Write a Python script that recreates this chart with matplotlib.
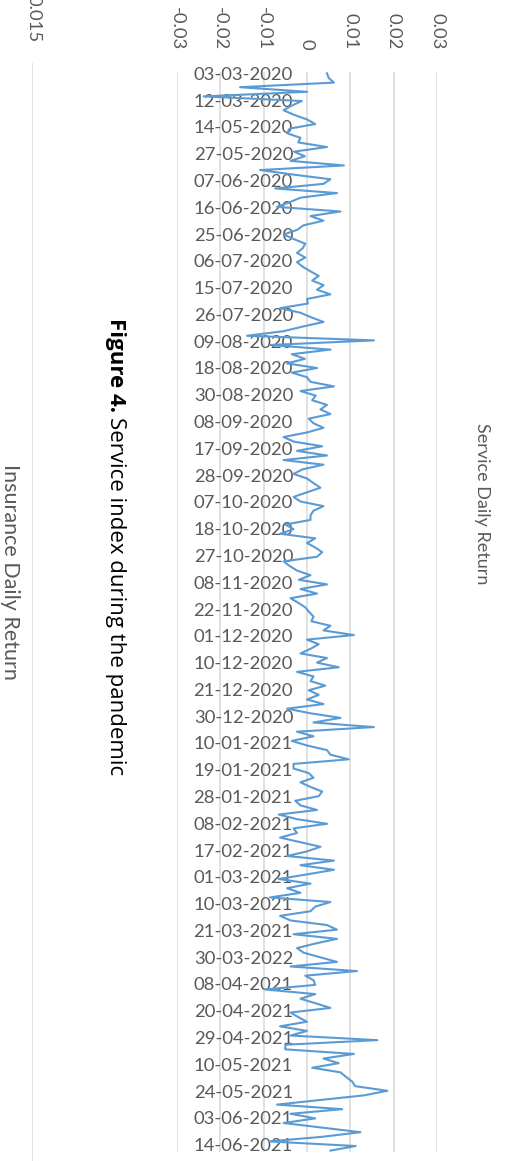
import matplotlib.pyplot as plt
import numpy as np

# Service index daily returns (in %), top to bottom
ret_mar_jun20 = [0.46, 0.5, 0.62, -1.54, 0.0, -2.38, -0.12, -0.35, -0.54, -0.3, 0.0, 0.19, -0.4, -0.46,
                 -0.15, -0.2, 0.46, -0.3, -0.05, -0.38, 0.85, -1.08, -0.3, 0.54, 0.38, -0.73, 0.69, -0.15]
ret_jun_aug20 = [-0.4, -0.69, 0.77, 0.08, 0.38, -0.08, -0.23, -0.54, -0.3, -0.04, -0.1, -0.23, -0.04, -0.23,
                 -0.1, 0.08, 0.27, 0.12, 0.38, 0.23, 0.54, 0.0, 0.02, -0.62, -0.15, 0.1, 0.38, -0.1, -0.54]
ret_aug_sep20 = [-1.38, 1.54, -0.85, 0.54, -0.35, -0.05, -0.46, 0.23, -0.35, 0.0, 0.08, 0.62, -0.15, 0.2,
                 0.12, 0.46, 0.31, 0.54, 0.04, 0.15, 0.38, 0.0, -0.54, -0.3, 0.35, -0.23, 0.46, -0.54, 0.38]
ret_sep_nov20 = [-0.1, -0.31, 0.0, 0.15, 0.31, 0.0, -0.31, -0.15, 0.38, 0.15, 0.08, 0.08, -0.5, -0.31, -0.62,
                 0.19, 0.0, 0.19, 0.35, 0.23, -0.54, -0.4, -0.23, 0.08, -0.19, 0.46, -0.15, 0.23, -0.38,
                 -0.2, -0.04]
ret_nov_jan21 = [0.05, 0.15, 0.1, 0.54, 0.38, 1.08, 0.0, 0.27, 0.08, -0.15, 0.46, 0.23, 0.73, -0.23,
                 0.15, 0.08, 0.42, 0.04, 0.27, 0.0, 0.38, -0.46, 0.08, 0.77, 0.15, 1.54, -0.23, 0.15]
ret_jan_mar21 = [-0.35, 0.0, 0.46, 0.54, 0.96, -0.31, -0.31, 0.04, 0.15, -0.15, 0.08, 0.35, 0.27,
                 -0.27, -0.15, 0.23, -0.65, -0.23, 0.46, -0.31, -0.23, -0.62, -0.15, 0.31, 0.0,
                 -0.46, 0.62, -0.15, 0.62]
ret_mar_apr21 = [0.0, -0.65, 0.08, -0.46, -0.15, -0.85, 0.54, 0.19, 0.08, -0.62, -0.38, 0.46, 0.69, -0.31,
                 0.69, 0.2, -0.23, -0.08, 0.3, 0.69, -0.38, 1.15, -0.04, 0.15, 0.19, -0.96, 0.19, -0.15, 0.2, 0.54]
ret_apr_jun21 = [-0.38, -0.2, 0.0, -0.62, 0.0, -0.38, 1.62, -0.5, -0.5, 1.08, 0.38, 0.73, 0.12, 0.77,
                 0.9, 1.04, 1.11, 1.85, 1.31, 0.3, -0.69, 0.81, -0.38, 0.19, -0.54, 0.35, 1.23, 0.35, -0.88,
                 1.12, 0.54]

date_labels = ["03-03-2020", "12-03-2020", "14-05-2020", "27-05-2020", "07-06-2020", "16-06-2020",
               "25-06-2020", "06-07-2020", "15-07-2020", "26-07-2020", "09-08-2020", "18-08-2020",
               "30-08-2020", "08-09-2020", "17-09-2020", "28-09-2020", "07-10-2020", "18-10-2020",
               "27-10-2020", "08-11-2020", "22-11-2020", "01-12-2020", "10-12-2020", "21-12-2020",
               "30-12-2020", "10-01-2021", "19-01-2021", "28-01-2021", "08-02-2021", "17-02-2021",
               "01-03-2021", "10-03-2021", "21-03-2021", "30-03-2022", "08-04-2021", "20-04-2021",
               "29-04-2021", "10-05-2021", "24-05-2021", "03-06-2021", "14-06-2021"]
value_ticks = [-0.03, -0.02, -0.01, 0, 0.01, 0.02, 0.03]
value_labels = ["-0.03", "-0.02", "-0.01", "0", "0.01", "0.02", "0.03"]

returns = np.concatenate([ret_mar_jun20, ret_jun_aug20, ret_aug_sep20, ret_sep_nov20,
                          ret_nov_jan21, ret_jan_mar21, ret_mar_apr21, ret_apr_jun21]) / 100

W, H = 505, 1161
GREY = "#595959"
GRID = "#d9d9d9"
plt.rcParams['font.family'] = ['Lato', 'DejaVu Sans']

fig = plt.figure(figsize=(W / 100, H / 100), dpi=100)


def fx(px):
    return px / W


def fy(py):
    return 1 - py / H


# the page is turned 90 degrees clockwise, so the chart is drawn turned too
ax = fig.add_axes([fx(176.7), fy(1152), (437.3 - 176.7) / W, (1152 - 72) / H])
n = len(returns)
idx = np.arange(n)
ax.plot(returns, idx, color="#5b9bd5", lw=1.5, solid_joinstyle="round", zorder=3)
ax.set_xlim(-0.03, 0.03)
ax.set_ylim(n - 1 + 0.3, -0.3)

ax.set_xticks(value_ticks, value_labels)
ax.xaxis.tick_top()
ax.tick_params(axis="x", length=0, pad=16, labelrotation=-90, labelsize=13.3, labelcolor=GREY)
ax.grid(axis="x", color=GRID, lw=1.1)
ax.set_axisbelow(True)

ax.spines["left"].set_position(("data", 0))
for s in ax.spines.values():
    s.set_visible(False)
ax.set_yticks(np.linspace(0, n - 1 - 1.3, len(date_labels)), date_labels)
ax.tick_params(axis="y", length=0, pad=10, labelsize=13.3, labelcolor=GREY)

fig.text(fx(482), fy(504), "Service Daily Return", rotation=-90, ha="center", va="center",
         fontsize=13, color=GREY)

# caption
renderer = fig.canvas.get_renderer()
t1 = fig.text(fx(110), fy(318), "Figure 4.", rotation=-90, rotation_mode="anchor",
              ha="left", va="baseline", fontsize=16, fontweight="bold", color="black",
              family=["Open Sans", "DejaVu Sans"])
bb = t1.get_window_extent(renderer)
fig.text(fx(110), (bb.y0 - 5) / H, "Service index during the pandemic", rotation=-90,
         rotation_mode="anchor", ha="left", va="baseline", fontsize=16, color="black",
         family=["Open Sans", "DejaVu Sans"])

# next chart (Insurance), mostly off the page
ax2 = fig.add_axes([fx(33 - 300), fy(1400), 300 / W, (1400 - 63) / H])
ax2.set_xlim(-0.015, 0.015)
ax2.set_xticks([0.015], ["0.015"])
ax2.xaxis.tick_top()
ax2.tick_params(axis="x", length=0, pad=15, labelrotation=-90, labelsize=13.3, labelcolor=GREY)
ax2.set_yticks([])
ax2.grid(axis="x", color=GRID, lw=1.1)
for s in ax2.spines.values():
    s.set_visible(False)
ax2.patch.set_visible(False)

fig.text(fx(10), fy(572), "Insurance Daily Return", rotation=-90, ha="center", va="center",
         fontsize=15.5, color=GREY)

fig.savefig("out.png", dpi=100)
